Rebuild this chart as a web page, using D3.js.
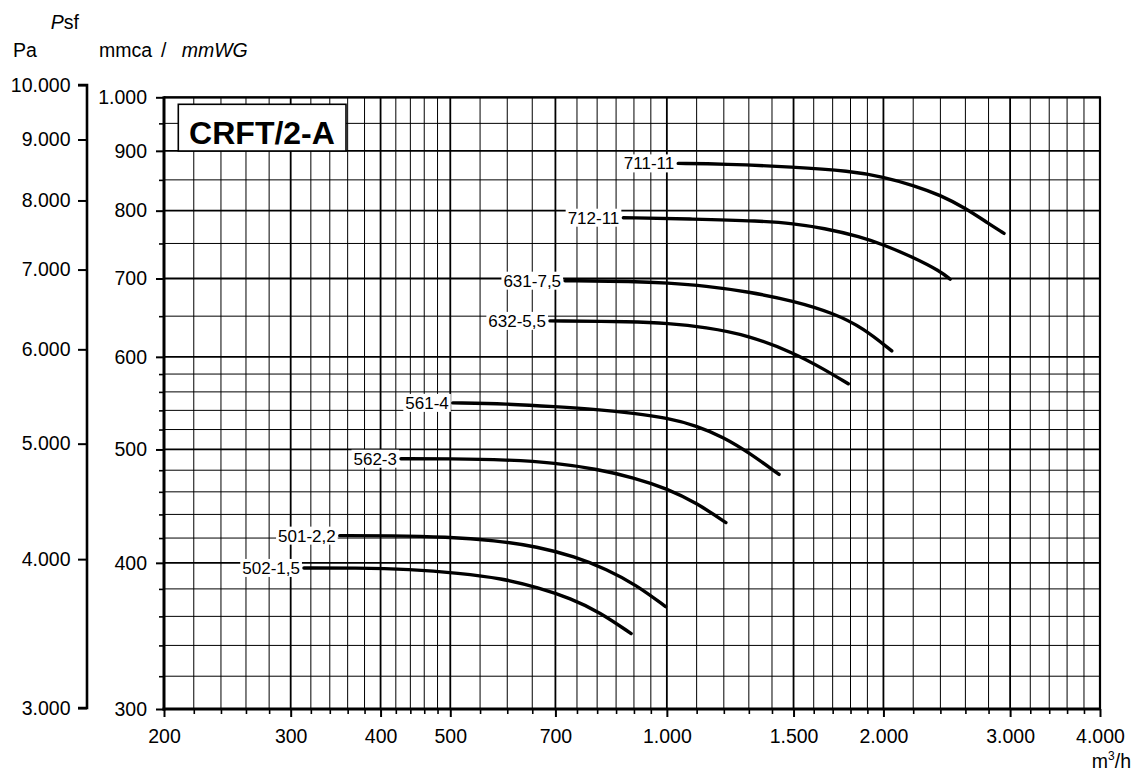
<!DOCTYPE html>
<html><head><meta charset="utf-8">
<script src="https://cdn.jsdelivr.net/npm/d3@7"></script>
<style>
body{margin:0;background:#fff}
svg{display:block}
text{font-family:"Liberation Sans",Arial,Helvetica,sans-serif;fill:#000}
</style>
</head><body>
<svg id="c" width="1133" height="773"></svg>
<script>
// ---------- data ----------
const xTickLabels = [200, 300, 400, 500, 700, 1000, 1500, 2000, 3000, 4000];
const yTickLabels = [300, 400, 500, 600, 700, 800, 900, 1000];
const paTickLabels = [3000, 4000, 5000, 6000, 7000, 8000, 9000, 10000];
const xGridValues = [...d3.range(200, 500, 20), ...d3.range(500, 1000, 50), ...d3.range(1000, 2000, 100), ...d3.range(2000, 4001, 200)];
const yGridValues = [...d3.range(300, 600, 20), ...d3.range(600, 1001, 50)];

const curveNames = ["711-11", "712-11", "631-7,5", "632-5,5", "561-4", "562-3", "501-2,2", "502-1,5"];
const flow711 = [1037, 1200, 1499, 1797, 2000, 2201, 2400, 2600, 2800, 2942];
const press711 = [878, 877, 872, 865, 855, 841, 825, 804, 780, 765];
const flow712 = [870, 1088, 1348, 1499, 1650, 1860, 2000, 2200, 2400, 2476];
const press712 = [789, 787, 784, 780, 773, 760, 748, 730, 710, 699];
const flow631 = [722, 901, 1000, 1132, 1298, 1499, 1704, 1876, 2054];
const press631 = [697, 696, 694, 690, 682, 670, 654, 635, 607];
const flow632 = [688, 901, 1000, 1132, 1298, 1499, 1650, 1787];
const press632 = [644, 643, 641, 636, 626, 605, 586, 569];
const flow561 = [504, 600, 700, 800, 900, 1000, 1100, 1200, 1300, 1432];
const press561 = [548, 547, 544, 541, 537, 532, 524, 512, 497, 476];
const flow562 = [427, 500, 600, 700, 800, 900, 1000, 1100, 1208];
const press562 = [491, 491, 490, 487, 481, 473, 463, 450, 433];
const flow501 = [351, 413, 494, 577, 661, 744, 825, 906, 996];
const press501 = [422, 422, 421, 418, 413, 405, 395, 383, 367];
const flow502 = [313, 368, 440, 514, 589, 663, 735, 807, 892];
const press502 = [396, 396, 395, 392, 388, 381, 373, 363, 348];

const flows = [flow711, flow712, flow631, flow632, flow561, flow562, flow501, flow502];
const presses = [press711, press712, press631, press632, press561, press562, press501, press502];
const series = curveNames.map((n, i) => ({name: n, pts: flows[i].map((f, j) => [f, presses[i][j]])}));

// ---------- layout ----------
const L = 164, R = 1100, T = 97.3, B = 709;
const svg = d3.select("#c");
const x = d3.scaleLog().domain([200, 4000]).range([L, R]);
const y = d3.scaleLog().domain([300, 1000]).range([B, T]);
const yPa = d3.scaleLog().domain([3000, 10000]).range([708, 85]);
const loc = d3.formatLocale({decimal: ",", thousands: ".", grouping: [3], currency: ["", ""]});
const fmt = loc.format(",");
const FS = "19.5px";

// ---------- grid ----------
const grid = svg.append("g");
grid.selectAll("line.v").data(xGridValues).join("line").attr("class", "v")
  .attr("x1", d => x(d)).attr("x2", d => x(d)).attr("y1", T).attr("y2", B)
  .attr("stroke", "#000").attr("stroke-width", d => xTickLabels.includes(d) ? 1.8 : 1);
grid.selectAll("line.h").data(yGridValues).join("line").attr("class", "h")
  .attr("y1", d => y(d)).attr("y2", d => y(d)).attr("x1", L).attr("x2", R)
  .attr("stroke", "#000").attr("stroke-width", d => yTickLabels.includes(d) ? 1.8 : 1);

// border
svg.append("line").attr("x1", L).attr("x2", R + 1).attr("y1", T).attr("y2", T).attr("stroke", "#000").attr("stroke-width", 2.2);
svg.append("line").attr("x1", R).attr("x2", R).attr("y1", T).attr("y2", B).attr("stroke", "#000").attr("stroke-width", 2.2);

// ---------- mm axis (left) ----------
const minorY = yGridValues.filter(v => !yTickLabels.includes(v));
svg.append("g").attr("transform", `translate(${L},0)`)
  .call(d3.axisLeft(y).tickValues(minorY).tickSize(5).tickFormat(""))
  .call(a => a.select(".domain").remove())
  .selectAll("line").attr("stroke-width", 1.6);
const ya = svg.append("g").attr("transform", `translate(${L},0)`)
  .call(d3.axisLeft(y).tickValues(yTickLabels).tickFormat(fmt).tickSize(8).tickPadding(9))
  .call(a => a.select(".domain").remove());
ya.selectAll("line").attr("stroke-width", 2);
ya.selectAll("text").style("font-size", FS).attr("font-family", null);

// ---------- x axis ----------
const minorX = xGridValues.filter(v => !xTickLabels.includes(v));
svg.append("g").attr("transform", `translate(0,${B})`)
  .call(d3.axisBottom(x).tickValues(minorX).tickSize(5).tickFormat(""))
  .call(a => a.select(".domain").remove())
  .selectAll("line").attr("stroke-width", 1.6);
const xa = svg.append("g").attr("transform", `translate(0,${B})`)
  .call(d3.axisBottom(x).tickValues(xTickLabels).tickFormat(fmt).tickSize(8).tickPadding(12))
  .call(a => a.select(".domain").remove());
xa.selectAll("line").attr("stroke-width", 2);
xa.selectAll("text").style("font-size", FS).attr("font-family", null);

// axis lines
svg.append("line").attr("x1", L).attr("x2", L).attr("y1", T - 1).attr("y2", B + 1.5).attr("stroke", "#000").attr("stroke-width", 3);
svg.append("line").attr("x1", L - 1.5).attr("x2", R + 1).attr("y1", B).attr("y2", B).attr("stroke", "#000").attr("stroke-width", 3);

// ---------- Pa axis ----------
const pa = svg.append("g").attr("transform", "translate(87,0)")
  .call(d3.axisLeft(yPa).tickValues(paTickLabels).tickFormat(fmt).tickSize(9).tickPadding(7.5));
pa.select(".domain").attr("stroke-width", 2.6).attr("d", `M-9,${yPa(3000)}H0V${yPa(10000)}H-9`).attr("fill", "none");
pa.selectAll("line").attr("stroke-width", 2);
pa.selectAll("text").style("font-size", FS).attr("font-family", null);

// ---------- axis titles ----------
const psf = svg.append("text").attr("x", 50.7).attr("y", 29.3).style("font-size", FS);
psf.append("tspan").style("font-style", "italic").text("P");
psf.append("tspan").text("sf");
svg.append("text").attr("x", 13).attr("y", 56.7).style("font-size", FS).text("Pa");
const mm = svg.append("text").attr("y", 56.7).style("font-size", FS);
mm.append("tspan").attr("x", 99).text("mmca");
mm.append("tspan").attr("x", 161).text("/");
mm.append("tspan").attr("x", 181.7).style("font-style", "italic").text("mmWG");
const unit = svg.append("text").attr("x", 1131).attr("y", 768).attr("text-anchor", "end").style("font-size", FS);
unit.append("tspan").text("m");
unit.append("tspan").attr("dy", -8).style("font-size", "12px").text("3");
unit.append("tspan").attr("dy", 8).text("/h");

// ---------- title box ----------
svg.append("rect").attr("x", 178.3).attr("y", 104.3).attr("width", 167.7).attr("height", 46.7)
  .attr("fill", "#fff").attr("stroke", "#000").attr("stroke-width", 1.6);
svg.append("text").attr("x", 262).attr("y", 143.5).attr("text-anchor", "middle")
  .style("font-size", "32px").style("font-weight", "bold").text("CRFT/2-A");

// ---------- curves ----------
const line = d3.line().x(d => x(d[0])).y(d => y(d[1])).curve(d3.curveBasis);
const cg = svg.append("g");
series.forEach(s => {
  const x0 = x(s.pts[0][0]), y0 = y(s.pts[0][1]);
  const t = cg.append("text").attr("x", x0 - 4).attr("y", y0 + 6).attr("text-anchor", "end")
    .style("font-size", "17px").text(s.name);
  const bb = t.node().getBBox();
  cg.insert("rect", "text").attr("x", bb.x - 2).attr("y", y0 - 9).attr("width", bb.width + 4).attr("height", 18).attr("fill", "#fff");
  cg.append("path").datum(s.pts).attr("d", line).attr("fill", "none")
    .attr("stroke", "#000").attr("stroke-width", 3.4).attr("stroke-linecap", "round");
});
</script>
</body></html>
